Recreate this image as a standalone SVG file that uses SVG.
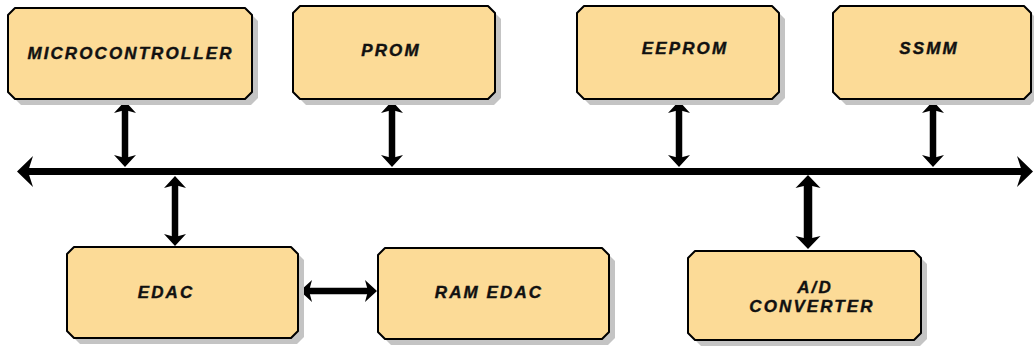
<svg xmlns="http://www.w3.org/2000/svg" width="1034" height="346" viewBox="0 0 1034 346">
  <style>
    .shadow { fill: #c4c4c4; stroke: none; }
    .box { fill: #fcdb97; stroke: #000; stroke-width: 2; stroke-linejoin: round; }
    .label { font-family: "Liberation Sans", Arial, sans-serif; font-size: 17px; font-weight: bold; font-style: italic; letter-spacing: 2.1px; fill: #111; stroke: #111; stroke-width: 0.4; text-anchor: middle; }
    .link { stroke: #000; stroke-width: 6.5; fill: none; marker-start: url(#head); marker-end: url(#head); }
  </style>
  <defs>
    <!-- barbed arrowheads; the origin sits at the notch so the line end is hidden -->
    <marker id="head" markerUnits="userSpaceOnUse" orient="auto-start-reverse" markerWidth="40" markerHeight="40" refX="0" refY="0" viewBox="-20 -20 40 40" overflow="visible">
      <path d="M0,0 L-3,-11 L9,0 L-3,11 Z" fill="#000"/>
    </marker>
    <marker id="headWide" markerUnits="userSpaceOnUse" orient="auto-start-reverse" markerWidth="40" markerHeight="40" refX="0" refY="0" viewBox="-20 -20 40 40" overflow="visible">
      <path d="M0,0 L-3,-12.5 L10,0 L-3,12.5 Z" fill="#000"/>
    </marker>
    <marker id="headBus" markerUnits="userSpaceOnUse" orient="auto-start-reverse" markerWidth="40" markerHeight="40" refX="0" refY="0" viewBox="-20 -20 40 40" overflow="visible">
      <path d="M0,0 L-5,-15.5 L11,0 L-5,15.5 Z" fill="#000"/>
    </marker>
  </defs>

  <!-- connectors -->
  <g id="connectors">
    <line id="bus" x1="28" y1="171.5" x2="1022" y2="171.5" stroke="#000" stroke-width="7" marker-start="url(#headBus)" marker-end="url(#headBus)"/>
    <line class="link" x1="125" y1="110" x2="125" y2="158"/>
    <line class="link" x1="392" y1="110" x2="392" y2="158"/>
    <line class="link" x1="679" y1="110" x2="679" y2="158"/>
    <line class="link" x1="933" y1="110" x2="933" y2="158"/>
    <line class="link" x1="175" y1="185" x2="175" y2="237"/>
    <line class="link" x1="309" y1="291" x2="368" y2="291"/>
    <line x1="808" y1="185" x2="808" y2="239" stroke="#000" stroke-width="8.5" marker-start="url(#headWide)" marker-end="url(#headWide)"/>
  </g>

  <!-- MICROCONTROLLER -->
  <g id="microcontroller">
    <path class="shadow" d="M21,14 H251 L258,21 V98 L251,105 H21 L14,98 V21 Z"/>
    <path class="box" d="M15,8 H245 L252,15 V92 L245,99 H15 L8,92 V15 Z"/>
    <text class="label" x="130.5" y="59">MICROCONTROLLER</text>
  </g>

  <!-- PROM -->
  <g id="prom">
    <path class="shadow" d="M306,12 H494 L501,19 V98 L494,105 H306 L299,98 V19 Z"/>
    <path class="box" d="M300,6 H488 L495,13 V92 L488,99 H300 L293,92 V13 Z"/>
    <text class="label" x="391" y="56">PROM</text>
  </g>

  <!-- EEPROM -->
  <g id="eeprom">
    <path class="shadow" d="M590,12 H778 L785,19 V98 L778,105 H590 L583,98 V19 Z"/>
    <path class="box" d="M584,6 H772 L779,13 V92 L772,99 H584 L577,92 V13 Z"/>
    <text class="label" x="685" y="54">EEPROM</text>
  </g>

  <!-- SSMM -->
  <g id="ssmm">
    <path class="shadow" d="M846,12 H1030 L1037,19 V98 L1030,105 H846 L839,98 V19 Z"/>
    <path class="box" d="M840,6 H1024 L1031,13 V92 L1024,99 H840 L833,92 V13 Z"/>
    <text class="label" x="929" y="54">SSMM</text>
  </g>

  <!-- EDAC -->
  <g id="edac">
    <path class="shadow" d="M80,253 H297 L304,260 V337 L297,344 H80 L73,337 V260 Z"/>
    <path class="box" d="M74,247 H291 L298,254 V331 L291,338 H74 L67,331 V254 Z"/>
    <text class="label" x="166" y="298">EDAC</text>
  </g>

  <!-- RAM EDAC -->
  <g id="ram-edac">
    <path class="shadow" d="M391,254 H608 L615,261 V338 L608,345 H391 L384,338 V261 Z"/>
    <path class="box" d="M385,248 H602 L609,255 V332 L602,339 H385 L378,332 V255 Z"/>
    <text class="label" x="489" y="298">RAM EDAC</text>
  </g>

  <!-- A/D CONVERTER -->
  <g id="ad-converter">
    <path class="shadow" d="M701,257 H920 L927,264 V339 L920,346 H701 L694,339 V264 Z"/>
    <path class="box" d="M695,251 H914 L921,258 V333 L914,340 H695 L688,333 V258 Z"/>
    <text class="label" x="815" y="293">A/D</text>
    <text class="label" x="812" y="312">CONVERTER</text>
  </g>
</svg>
